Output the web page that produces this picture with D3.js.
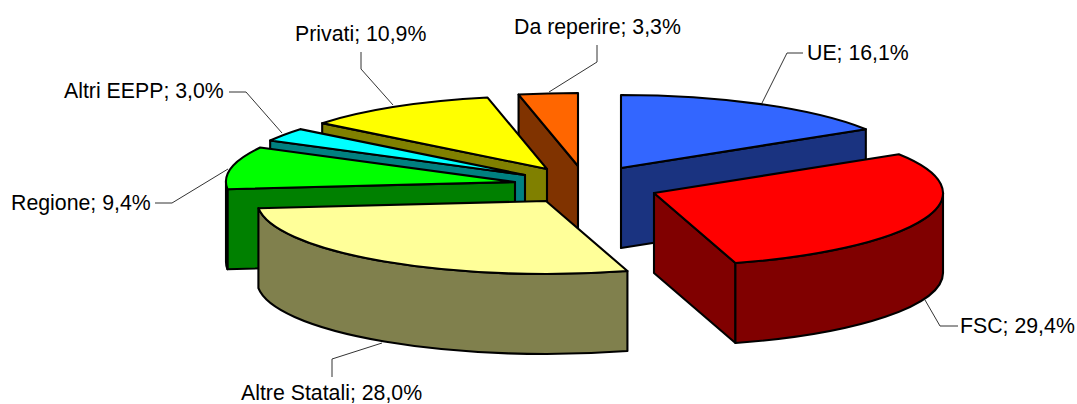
<!DOCTYPE html>
<html><head><meta charset="utf-8">
<script src="https://d3js.org/d3.v7.min.js"></script>
<style>html,body{margin:0;padding:0;background:#fff}svg{display:block}</style>
</head><body><svg id="c" width="1077" height="404"></svg>
<script>
const categories = ["UE","FSC","Altre Statali","Regione","Altri EEPP","Privati","Da reperire"];
const values = [16.1,29.4,28.0,9.4,3.0,10.9,3.3];
const topColors = ["#3366FF","#FF0000","#FFFF99","#00FF00","#00FFFF","#FFFF00","#FF6600"];
const sideColors = ["#1A3380","#800000","#80804D","#008000","#008080","#808000","#803300"];
// layout of the exploded wedges (apex of each slice)
const apexX = [621,654,546,515,525,547,578];
const apexY = [168,193,201,182,175,169,166];
const drawOrder = [6,0,5,4,3,2,1];
const rx = 289, ry = 73, depth = 80;
// label layout
const labelX = [807,960,241,11,64,295,514];
const labelY = [60,333,400,210,98,41,34];
const leaders = [
 [[762,103],[787,53],[803,53]],
 [[925,300],[940,326],[958,326]],
 [[382,343],[332,359],[332,377]],
 [[228,169],[172,203],[155,203]],
 [[282,133],[246,92],[229,92]],
 [[393,105],[361,69],[361,52]],
 [[549,92],[597,62],[597,45]]
];
const fmt = v => v.toFixed(1).replace(".",",") + "%";
const svg = d3.select("#c");
const pie = d3.pie().sort(null).value(d=>d)(values);
const P = (i,a,dz=0)=>[apexX[i]+rx*Math.sin(a), apexY[i]-ry*Math.cos(a)+dz];
const A = (sweep,p)=>`A${rx},${ry} 0 0 ${sweep} ${p[0]},${p[1]}`;
const stroke = {stroke:"#000","stroke-width":2.1,"stroke-linejoin":"round"};
function add(d,fill){const p=svg.append("path").attr("d",d).attr("fill",fill);
  for(const k in stroke)p.attr(k,stroke[k]);}
drawOrder.forEach(i=>{
  const {startAngle:a1,endAngle:a2}=pie[i];
  const O=[apexX[i],apexY[i]],O2=[O[0],O[1]+depth];
  const face=a=>{const q=P(i,a),q2=P(i,a,depth);
    return `M${O}L${q}L${q2}L${O2}Z`;};
  if(Math.sin(a1)<-1e-6) add(face(a1),sideColors[i]);
  if(Math.sin(a2)>1e-6) add(face(a2),sideColors[i]);
  const lo=Math.max(a1,Math.PI/2),hi=Math.min(a2,3*Math.PI/2);
  if(hi>lo){
    const s=P(i,lo),e=P(i,hi),s2=P(i,lo,depth),e2=P(i,hi,depth);
    add(`M${s}${A(1,e)}L${e2}${A(0,s2)}Z`,sideColors[i]);
  }
  add(`M${O}L${P(i,a1)}${A(1,P(i,a2))}Z`,topColors[i]);
});
const line=d3.line();
leaders.forEach(l=>{
  svg.append("path").attr("d",line(l)).attr("fill","none").attr("stroke","#333").attr("stroke-width",1);
});
categories.forEach((c,i)=>{
  svg.append("text").attr("x",labelX[i]).attr("y",labelY[i])
    .attr("font-family","'Liberation Sans',Arial,sans-serif").attr("font-size",21.3).attr("fill","#000")
    .text(`${c}; ${fmt(values[i])}`);
});
</script></body></html>
